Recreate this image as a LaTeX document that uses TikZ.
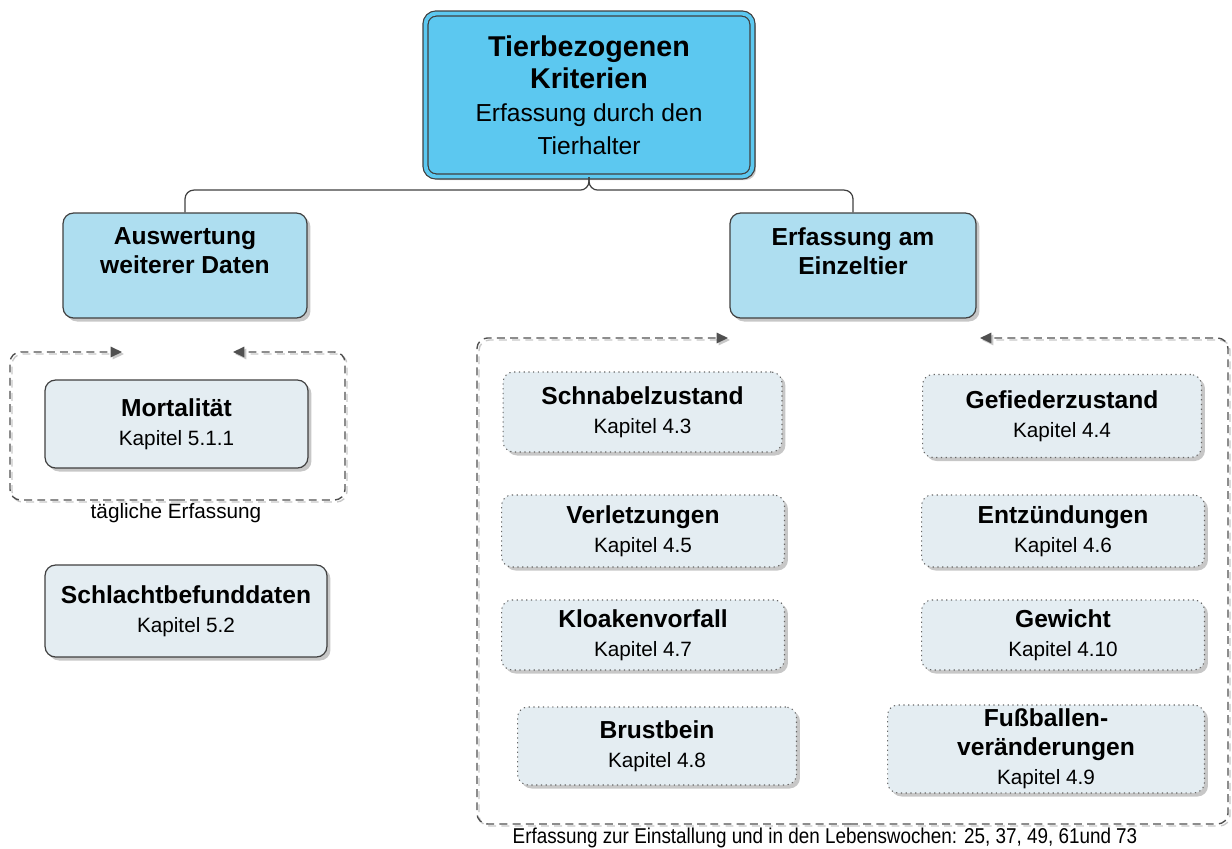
\documentclass[tikz,border=0pt]{standalone}
\usepackage{fontspec}
\setmainfont{Liberation Sans}
\newfontfamily\narrowfont[FakeStretch=0.88]{Liberation Sans}
\usepackage{xcolor}
\usetikzlibrary{arrows.meta,shadows}
\definecolor{topblue}{RGB}{92,200,240}
\definecolor{midblue}{RGB}{174,222,240}
\definecolor{itemgray}{RGB}{228,237,242}
\definecolor{linegray}{RGB}{64,64,64}
\definecolor{framegray}{RGB}{80,80,80}
\definecolor{frameshade}{RGB}{200,200,200}
\newcommand{\kap}[1]{{\fontsize{11.8}{14}\selectfont Kapitel~#1}}
\newcommand{\hd}[1]{{\fontsize{16.3}{18.8}\selectfont\bfseries #1}}

\begin{document}
\begin{tikzpicture}[x=0.02cm, y=-0.02cm,
  font=\fontsize{14}{16.5}\selectfont,
  shadowed/.style={drop shadow={shadow xshift=2pt, shadow yshift=-2pt, fill=black!22, opacity=1}},
  box/.style={draw=linegray, line width=0.7pt, rounded corners=6pt, align=center, inner sep=0pt, shadowed},
  head/.style={box, fill=topblue, double=topblue, double distance=2.2pt, line width=0.7pt,
    font=\fontsize{14}{18.6}\selectfont},
  group/.style={box, fill=midblue, font=\fontsize{14}{16.5}\selectfont\bfseries},
  item/.style={box, fill=itemgray},
  crit/.style={box, fill=itemgray, draw=black!60, dotted, line width=0.6pt},
  frame/.style={line width=0.8pt, dash pattern=on 4.5pt off 3pt, rounded corners=6pt,
    -{Triangle[length=6.5pt, width=6pt]}},
  note/.style={font=\fontsize{11.8}{14}\selectfont, inner sep=0pt}]
  \useasboundingbox (0,0) rectangle (1232,849);
  % root
  \node[head, minimum width=6.54cm, minimum height=3.26cm] (root) at (589,95)
    {\hd{Tierbezogenen}\\\hd{Kriterien}\\Erfassung durch den\\Tierhalter};
  % second level
  \node[group, minimum width=4.88cm, minimum height=2.10cm] (ausw) at (185,265.5) {Auswertung\\weiterer Daten\\~};
  \node[group, minimum width=4.92cm, minimum height=2.10cm] (einz) at (853,265.5) {Erfassung am\\Einzeltier\\~};
  \draw[linegray, line width=0.7pt, rounded corners=5pt] (root.south) -- ++(0,13) -| (ausw.north);
  \draw[linegray, line width=0.7pt, rounded corners=5pt] (root.south) -- ++(0,13) -| (einz.north);
  % further data
  \node[item, minimum width=5.26cm, minimum height=1.76cm] (mort) at (176.5,424) {\textbf{Mortalität}\\\kap{5.1.1}};
  \node[item, minimum width=5.64cm, minimum height=1.84cm] (schl) at (186,611) {\textbf{Schlachtbefunddaten}\\\kap{5.2}};
  % single animal
  \node[crit, minimum width=5.58cm, minimum height=1.60cm] (schn) at (642.5,412) {\textbf{Schnabelzustand}\\\kap{4.3}};
  \node[crit, minimum width=5.58cm, minimum height=1.66cm] (gef) at (1062,416) {\textbf{Gefiederzustand}\\\kap{4.4}};
  \node[crit, minimum width=5.66cm, minimum height=1.44cm] (verl) at (643,531) {\textbf{Verletzungen}\\\kap{4.5}};
  \node[crit, minimum width=5.66cm, minimum height=1.44cm] (entz) at (1063,531) {\textbf{Entzündungen}\\\kap{4.6}};
  \node[crit, minimum width=5.66cm, minimum height=1.40cm] (kloa) at (643,635) {\textbf{Kloakenvorfall}\\\kap{4.7}};
  \node[crit, minimum width=5.66cm, minimum height=1.40cm] (gew) at (1063,635) {\textbf{Gewicht}\\\kap{4.10}};
  \node[crit, minimum width=5.58cm, minimum height=1.56cm] (brust) at (657,746) {\textbf{Brustbein}\\\kap{4.8}};
  \node[crit, minimum width=6.34cm, minimum height=1.76cm] (fuss) at (1046,749) {\textbf{Fußballen-}\\\textbf{veränderungen}\\\kap{4.9}};
  % cycle frames
  \foreach \s/\c in {2/frameshade, 0/framegray} {
    \draw[frame, draw=\c, shift={(\s,\s)}] (177,500) -| (10,352) -- (122,352);
    \draw[frame, draw=\c, shift={(\s,\s)}] (177,500) -| (345,352) -- (233,352);
    \draw[frame, draw=\c, shift={(\s,\s)}] (850,824) -| (477,338) -- (728,338);
    \draw[frame, draw=\c, shift={(\s,\s)}] (850,824) -| (1228,338) -- (980,338);
  }
  \node[note] (daily) at (176,513) {tägliche Erfassung};
  \node[note, font=\narrowfont\fontsize{12.2}{14}\selectfont, anchor=base] (weeks) at (825,843)
    {Erfassung zur Einstallung und in den Lebenswochen: 25, 37, 49, 61und 73};
\end{tikzpicture}
\end{document}
